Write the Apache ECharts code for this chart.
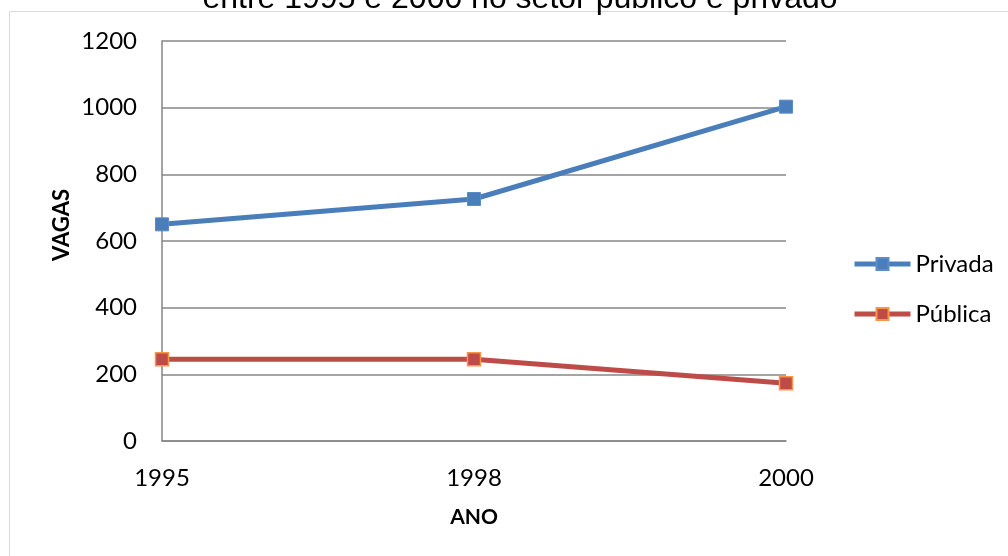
<!DOCTYPE html>
<html>
<head>
<meta charset="utf-8">
<script src="https://cdn.jsdelivr.net/npm/echarts@6/dist/echarts.min.js"></script>
<style>
  html, body { margin: 0; padding: 0; background: #fff; }
  #chart { width: 1008px; height: 556px; }
</style>
</head>
<body>
<div id="chart"></div>
<script>
// Vagas por ano, setor privado e público
const anos = ['1995', '1998', '2000'];
const privada = [650, 726, 1003];
const publica = [245, 245, 173];
const yTicks = { min: 0, max: 1200, interval: 200 };

const chart = echarts.init(document.getElementById('chart'), null, { renderer: 'canvas' });

const labelFont = 'Lato, "Open Sans", "Noto Sans", sans-serif';

chart.setOption({
  backgroundColor: '#ffffff',
  animation: false,
  title: {
    text: 'entre 1995 e 2000 no setor público e privado',
    left: 515,
    textAlign: 'center',
    top: -22,
    textStyle: { fontFamily: '"Liberation Sans", Arial, sans-serif', fontSize: 32, fontWeight: 'normal', color: '#000' }
  },
  graphic: [
    { type: 'line', shape: { x1: 9.5, y1: 11.5, x2: 1008, y2: 11.5 }, style: { stroke: '#d9d9d9', lineWidth: 1 } },
    { type: 'line', shape: { x1: 9.5, y1: 11.5, x2: 9.5, y2: 556 }, style: { stroke: '#d9d9d9', lineWidth: 1 } },
    {
      type: 'text',
      x: 62, y: 225,
      rotation: Math.PI / 2,
      style: {
        text: 'VAGAS',
        fontFamily: labelFont, fontSize: 22, fontWeight: 'bold', fill: '#000',
        align: 'center', verticalAlign: 'middle'
      }
    }
  ],
  grid: { left: 162, right: 222, top: 41, bottom: 115, containLabel: false },
  legend: {
    orient: 'vertical',
    left: 852,
    top: 252,
    padding: 0,
    itemGap: 26,
    itemWidth: 56,
    itemHeight: 15,
    textStyle: { fontFamily: labelFont, fontSize: 24, color: '#000' },
    data: [
      { name: 'Privada', lineStyle: { width: 5 } },
      { name: 'Pública', lineStyle: { width: 5 } }
    ]
  },
  xAxis: {
    type: 'category',
    data: anos,
    boundaryGap: false,
    name: 'ANO',
    nameLocation: 'middle',
    nameGap: 66,
    nameTextStyle: { fontFamily: labelFont, fontSize: 21, fontWeight: 'bold', color: '#000' },
    axisLine: { lineStyle: { color: '#868686', width: 1.5 } },
    axisTick: { show: false },
    axisLabel: { fontFamily: labelFont, fontSize: 24, color: '#000', margin: 25 },
    splitLine: { show: false }
  },
  yAxis: {
    type: 'value',
    min: yTicks.min,
    max: yTicks.max,
    interval: yTicks.interval,
    axisLine: { show: true, lineStyle: { color: '#868686', width: 1.5 } },
    axisTick: { show: false },
    axisLabel: { fontFamily: labelFont, fontSize: 24, color: '#000', margin: 25, formatter: v => String(v) },
    splitLine: { lineStyle: { color: '#868686', width: 1.5 } }
  },
  series: [
    {
      name: 'Privada',
      type: 'line',
      data: privada,
      symbol: 'rect',
      symbolSize: 13,
      lineStyle: { color: '#4a7ebb', width: 5 },
      itemStyle: { color: '#4a7ebb', borderColor: '#5b8bc9', borderWidth: 1 },
      z: 3
    },
    {
      name: 'Pública',
      type: 'line',
      data: publica,
      symbol: 'rect',
      symbolSize: 13,
      lineStyle: { color: '#be4b48', width: 5 },
      itemStyle: { color: '#be4b48', borderColor: '#f79646', borderWidth: 1.5 },
      z: 3
    }
  ]
});
</script>
</body>
</html>
